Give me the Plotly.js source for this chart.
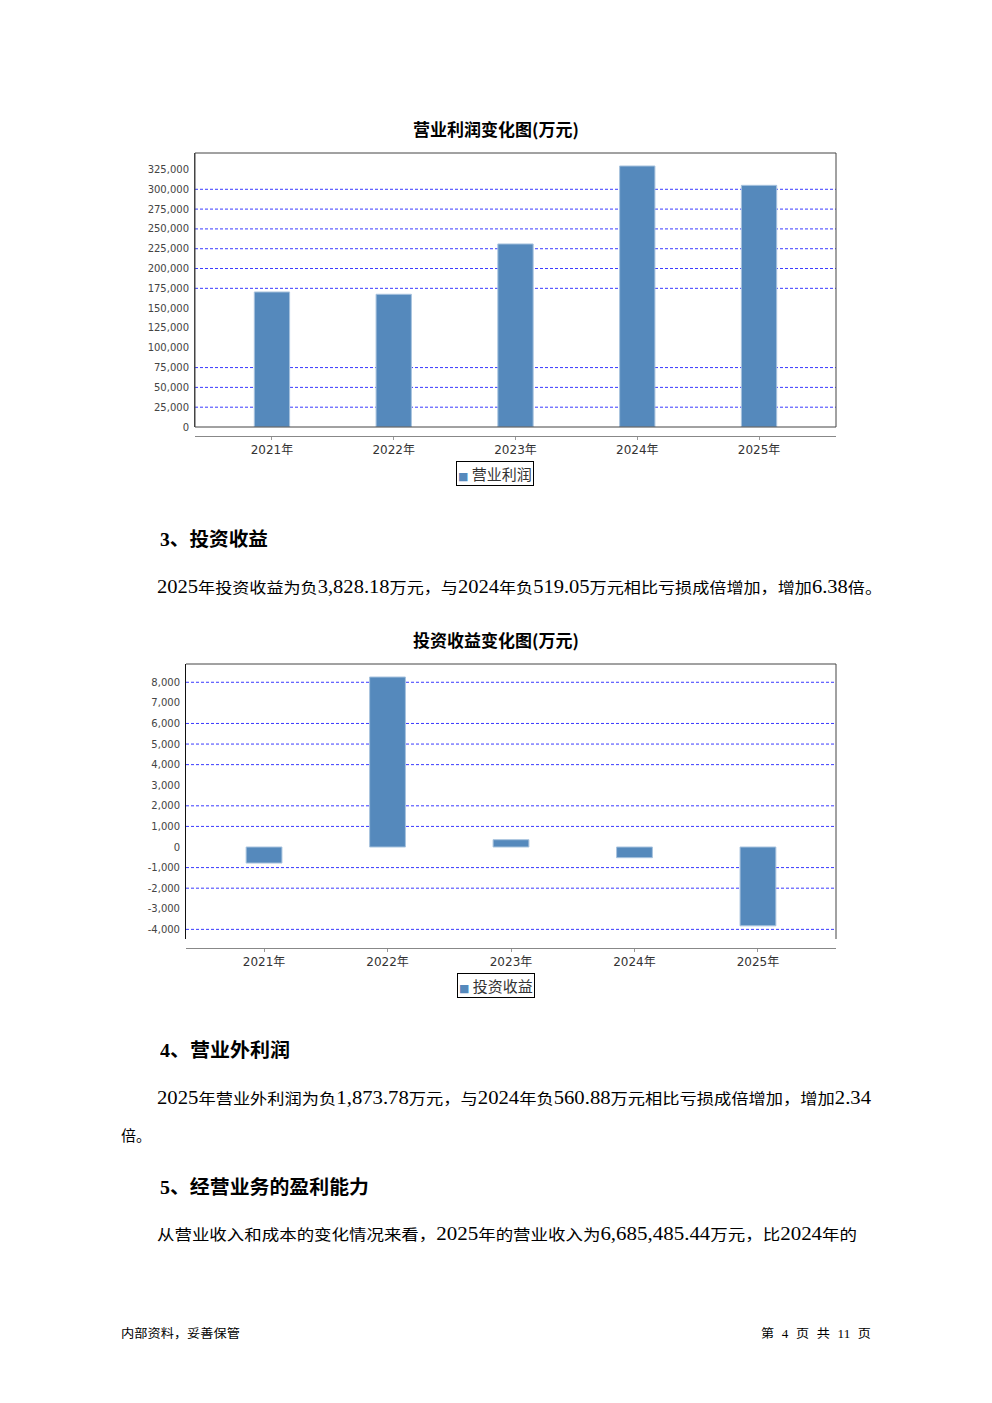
<!DOCTYPE html>
<html><head><meta charset="utf-8">
<script src="https://cdn.plot.ly/plotly-3.0.1.min.js"></script>
<style>
html,body{margin:0;padding:0;background:#fff;}
#page{position:relative;width:992px;height:1403px;overflow:hidden;background:#fff;}
.plot{position:absolute;left:0;width:992px;}
.ln{position:absolute;white-space:nowrap;transform-origin:0 50%;color:#000;font-family:"Liberation Serif","Noto Sans CJK SC",serif;}
.cjk{font-family:"Noto Sans CJK SC",sans-serif;}
</style></head>
<body><div id="page">
<div id="c1" class="plot" style="top:0;height:500px"></div>
<div id="c2" class="plot" style="top:500px;height:510px"></div>
</div>
<script>
// ---- data ----
const years = ['2021年','2022年','2023年','2024年','2025年'];
const operatingProfit = [170400, 167500, 231000, 329400, 305000];
const investmentIncome = [-780, 8256, 355, -519.05, -3828.18];
const profitTicks = [0,25000,50000,75000,100000,125000,150000,175000,200000,225000,250000,275000,300000,325000];
const profitGrid = [25000,50000,75000,175000,200000,225000,250000,275000,300000];
const incomeTicks = [-4000,-3000,-2000,-1000,0,1000,2000,3000,4000,5000,6000,7000,8000];
const incomeGrid = [-4000,-2000,-1000,1000,2000,4000,5000,6000,8000];
const chart1Title = '营业利润变化图(万元)';
const chart2Title = '投资收益变化图(万元)';
const series1Name = '营业利润';
const series2Name = '投资收益';

const BAR = '#5589bc';
function fmt(v){ return v.toLocaleString('en-US'); }

function makeChart(id, cfg){
  const H = cfg.height;
  const plotH = H - cfg.t - cfg.b;
  const d0 = cfg.frameGap / plotH;
  const shapes = cfg.grid.map(v => ({type:'line', xref:'paper', x0:0, x1:1, yref:'y', y0:v, y1:v,
      line:{color:'#3a3aff', width:1, dash:'3px,2px'}, layer:'below'}));
  if (cfg.bottomFrame) {
    shapes.push({type:'rect', xref:'paper', yref:'paper', x0:0, x1:1, y0:d0, y1:1, line:{color:'#444', width:1}, layer:'above'});
  } else {
    shapes.push({type:'line', xref:'paper', yref:'paper', x0:0, x1:1, y0:1, y1:1, line:{color:'#444', width:1}, layer:'above'});
    shapes.push({type:'line', xref:'paper', yref:'paper', x0:1, x1:1, y0:d0, y1:1, line:{color:'#444', width:1}, layer:'above'});
  }
  const plotW = 992 - cfg.l - cfg.r;
  const trace = {type:'bar', x:years, y:cfg.values, name:cfg.name, width:0.29,
    marker:{color:BAR, line:{color:'#a8c3de', width:1}}, hoverinfo:'skip', showlegend:false};
  const layout = {
    width:992, height:H, margin:{l:cfg.l, r:cfg.r, t:cfg.t, b:cfg.b, pad:0},
    paper_bgcolor:'#fff', plot_bgcolor:'rgba(0,0,0,0)', showlegend:false,
    title:{text:cfg.title, x:0.5, xref:'container', xanchor:'center', y:1 - cfg.titleY/H, yref:'container', yanchor:'middle',
      font:{family:'Noto Sans CJK SC', size:17, color:'#000', weight:'bold'}},
    xaxis:{type:'category', range:[-0.632, 4.632], anchor:'free', position:0, showline:true, linecolor:'#888', linewidth:1,
      ticks:'outside', ticklen:3, tickcolor:'#999', showgrid:false, zeroline:false, fixedrange:true,
      tickfont:{family:'DejaVu Sans, Noto Sans CJK SC', size:12, color:'#333'}},
    yaxis:{domain:[d0,1], range:cfg.yrange, tickmode:'array', tickvals:cfg.ticks, ticktext:cfg.ticks.map(fmt),
      showgrid:false, zeroline:false, showline:true, linecolor:cfg.axisColor, linewidth:1, ticks:'outside', ticklen:3,
      tickcolor:'rgba(0,0,0,0)', fixedrange:true, tickfont:{family:'DejaVu Sans', size:10, color:'#444'}},
    shapes:shapes,
    annotations:[{xref:'paper', yref:'paper', x:(cfg.legX - cfg.l)/plotW, y:((H - cfg.b) - cfg.legY) / plotH,
      xanchor:'center', yanchor:'middle', showarrow:false,
      text:'<span style="font-family:DejaVu Sans;font-size:11px;color:'+BAR+'">■</span> '+cfg.name,
      font:{family:'Noto Sans CJK SC', size:15, color:'#333'}, bordercolor:'#000', borderwidth:1, borderpad:1, bgcolor:'#fff'}]
  };
  Plotly.newPlot(id, [trace], layout, {staticPlot:true, displayModeBar:false});
}

makeChart('c1', {height:500, l:195, r:156, t:153, b:64, frameGap:9, values:operatingProfit, name:series1Name,
  title:chart1Title, titleY:130, yrange:[0, 345800], ticks:profitTicks, grid:profitGrid, bottomFrame:true,
  axisColor:'#444', legX:495, legY:473.5});
makeChart('c2', {height:510, l:186, r:156, t:164, b:62, frameGap:9, values:investmentIncome, name:series2Name,
  title:chart2Title, titleY:141, yrange:[-4468, 8888], ticks:incomeTicks, grid:incomeGrid, bottomFrame:false,
  axisColor:'#111', legX:495.5, legY:485});

// ---- page text ----
const lines = [
 {t:'3、投资收益', x:160, x2:268, y:537, size:19, cjk:19, bold:true},
 {t:'2025年投资收益为负3,828.18万元，与2024年负519.05万元相比亏损成倍增加，增加6.38倍。', x:157, x2:882, y:587, size:18, cjk:15},
 {t:'4、营业外利润', x:160, x2:290, y:1048, size:19, cjk:19, bold:true},
 {t:'2025年营业外利润为负1,873.78万元，与2024年负560.88万元相比亏损成倍增加，增加2.34', x:157, x2:871, y:1098, size:18, cjk:15},
 {t:'倍。', x:121, y:1135, size:18, cjk:15},
 {t:'5、经营业务的盈利能力', x:160, x2:369, y:1185, size:19, cjk:19, bold:true},
 {t:'从营业收入和成本的变化情况来看，2025年的营业收入为6,685,485.44万元，比2024年的', x:157, x2:857, y:1234, size:18, cjk:15},
 {t:'内部资料，妥善保管', x:121, x2:240, y:1333, size:12, cjk:12},
 {t:'第 4 页 共 11 页', x:761, x2:871, y:1333, size:12, cjk:12}
];
const page = document.getElementById('page');
lines.forEach(L => {
  const el = document.createElement('div');
  el.className = 'ln';
  el.style.fontSize = L.size + 'px';
  el.style.lineHeight = L.size + 'px';
  el.style.left = L.x + 'px';
  el.style.top = (L.y - L.size/2) + 'px';
  if (L.bold) el.style.fontWeight = 'bold';
  el.innerHTML = L.t.replace(/[\u3000-\u303f\u4e00-\u9fff\uff00-\uffef]+/g,
    m => '<span class="cjk" style="font-size:'+L.cjk+'px">'+m+'</span>');
  if (L.t.charAt(0) === '第') el.style.wordSpacing = '4px';
  page.appendChild(el);
  if (L.x2) {
    const w = el.getBoundingClientRect().width;
    el.style.transform = 'scaleX(' + ((L.x2 - L.x) / w) + ')';
  }
});
</script>
</body></html>
